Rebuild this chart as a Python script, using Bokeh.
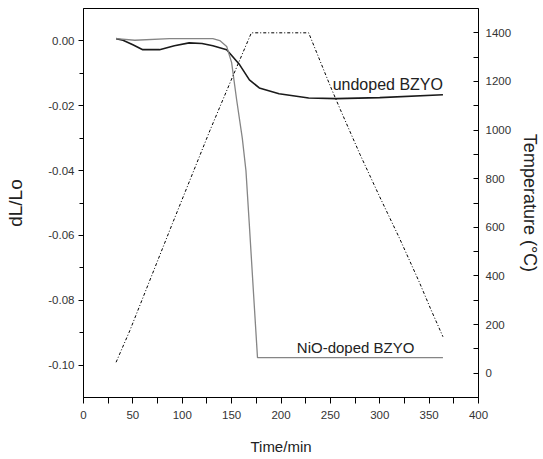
from bokeh.plotting import figure
from bokeh.models import Range1d, LinearAxis, FixedTicker, PrintfTickFormatter, Label
from bokeh.embed import file_html
from bokeh.resources import INLINE

# ---- data ----
undoped_t = [33, 40, 50, 60, 77, 92, 107, 120, 131, 145, 158, 168, 178, 198, 228, 256, 300, 364]
undoped_v = [0.0007, 0.0002, -0.0012, -0.0027, -0.0027, -0.0015, -0.0006, -0.0008, -0.0015,
             -0.0027, -0.0073, -0.0120, -0.0145, -0.0163, -0.0176, -0.0178, -0.0175, -0.0166]

nio_t = [33, 52, 87, 131, 138, 145, 150, 155, 160.8, 164.5, 167.8, 172.2, 176.2, 364]
nio_v = [0.0007, 0.0002, 0.0007, 0.0007, 0.0001, -0.0017, -0.0067, -0.0180, -0.0300,
         -0.0400, -0.0560, -0.0780, -0.0977, -0.0977]

temp_t = [33, 47, 90, 128, 150, 170, 228, 240, 250, 260, 280, 300, 320, 340, 352, 364]
temp_T = [45, 176, 615, 998, 1210, 1400, 1400, 1280, 1180, 1085, 900, 725, 555, 375, 260, 150]

x_ticks = [0, 50, 100, 150, 200, 250, 300, 350, 400]
x_minor = [25, 75, 125, 175, 225, 275, 325, 375]
y_ticks = [-0.10, -0.08, -0.06, -0.04, -0.02, 0.0]
y_minor = [-0.09, -0.07, -0.05, -0.03, -0.01]
t_ticks = [0, 200, 400, 600, 800, 1000, 1200, 1400]
t_minor = [100, 300, 500, 700, 900, 1100, 1300]

FONT = "Liberation Sans"
TICK_COLOR = "#333333"

p = figure(width=543, height=459, output_backend="svg", toolbar_location=None,
           x_range=Range1d(0, 400), y_range=Range1d(-0.11, 0.01),
           min_border_left=83, min_border_right=62, min_border_top=8, min_border_bottom=62)
p.title.visible = False
p.xgrid.visible = False
p.ygrid.visible = False
p.outline_line_color = "black"
p.outline_line_width = 1
p.background_fill_color = "white"
p.border_fill_color = "white"

p.extra_y_ranges = {"temp": Range1d(-100, 1500)}

# lines
p.line(undoped_t, undoped_v, line_color="#1a1a1a", line_width=1.6)
p.line(nio_t, nio_v, line_color="#858585", line_width=1.3)
p.line(temp_t, temp_T, y_range_name="temp", line_color="black", line_width=1, line_dash="3 2 1 2")

# x axis
xa = p.xaxis[0]
xa.ticker = FixedTicker(ticks=x_ticks, minor_ticks=x_minor)
xa.axis_label = "Time/min"
xa.major_tick_in = 0
xa.major_tick_out = 6
xa.minor_tick_in = 0
xa.minor_tick_out = 6
xa.major_label_standoff = 7
xa.axis_label_standoff = 16

# left axis
ya = p.yaxis[0]
ya.ticker = FixedTicker(ticks=y_ticks, minor_ticks=y_minor)
ya.formatter = PrintfTickFormatter(format="%.2f")
ya.axis_label = "dL/Lo"
ya.major_tick_in = 0
ya.major_tick_out = 5
ya.minor_tick_in = 0
ya.minor_tick_out = 4
ya.major_label_standoff = 4
ya.axis_label_standoff = 19

# right axis
ra = LinearAxis(y_range_name="temp", axis_label="Temperature (°C)",
                ticker=FixedTicker(ticks=t_ticks, minor_ticks=t_minor))
ra.major_tick_in = 5
ra.major_tick_out = 0
ra.minor_tick_in = 5
ra.minor_tick_out = 0
ra.major_label_standoff = 7
ra.axis_label_standoff = 6
p.add_layout(ra, "right")

for ax, lab_size in ((xa, "15px"), (ya, "19px"), (ra, "18px")):
    ax.axis_line_color = "black"
    ax.major_tick_line_color = "black"
    ax.minor_tick_line_color = "black"
    ax.major_label_text_font = FONT
    ax.major_label_text_font_size = "11.5px"
    ax.major_label_text_color = TICK_COLOR
    ax.axis_label_text_font = FONT
    ax.axis_label_text_font_size = lab_size
    ax.axis_label_text_font_style = "normal"
    ax.axis_label_text_color = "#222222"

# curve labels
p.add_layout(Label(x=364, y=-0.0135, text="undoped BZYO", text_align="right",
                   text_baseline="alphabetic", text_font=FONT, text_font_size="16px",
                   text_color="#222222"))
p.add_layout(Label(x=216, y=-0.0947, text="NiO-doped BZYO", text_align="left",
                   text_baseline="alphabetic", text_font=FONT, text_font_size="15px",
                   text_color="#222222"))

open("out.html", "w").write(file_html(p, INLINE))
